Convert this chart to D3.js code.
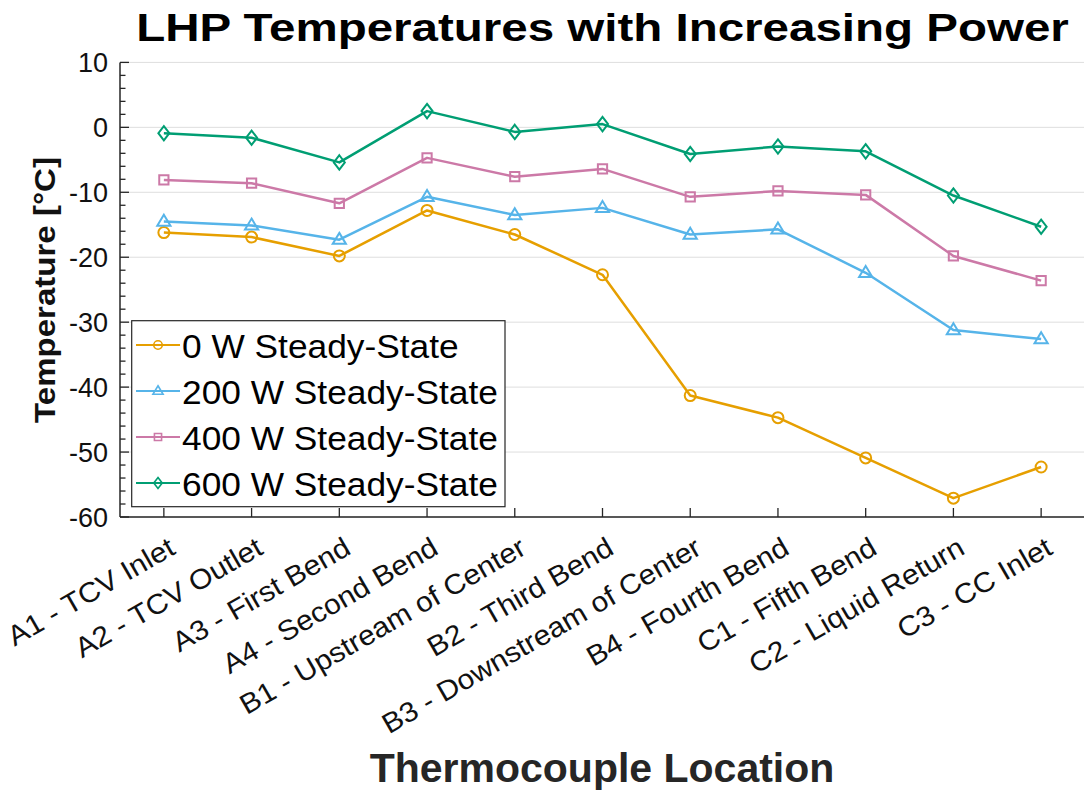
<!DOCTYPE html>
<html><head><meta charset="utf-8">
<script src="https://cdn.jsdelivr.net/npm/d3@7"></script>
<style>
body{margin:0;background:#fff;}
svg text{font-family:"Liberation Sans",Arial,Helvetica,sans-serif;}
</style>
</head><body>
<svg id="chart" width="1084" height="790"></svg>
<script>
// ---------- data ----------
const categories = ["A1 - TCV Inlet","A2 - TCV Outlet","A3 - First Bend","A4 - Second Bend",
  "B1 - Upstream of Center","B2 - Third Bend","B3 - Downstream of Center","B4 - Fourth Bend",
  "C1 - Fifth Bend","C2 - Liquid Return","C3 - CC Inlet"];
const seriesNames = ["0 W Steady-State","200 W Steady-State","400 W Steady-State","600 W Steady-State"];
const temp0W   = [-16.2,-16.9,-19.8,-12.8,-16.5,-22.7,-41.3,-44.7,-50.9,-57.1,-52.3];
const temp200W = [-14.5,-15.1,-17.3,-10.7,-13.5,-12.4,-16.5,-15.7,-22.4,-31.2,-32.6];
const temp400W = [-8.1,-8.6,-11.7,-4.7,-7.6,-6.4,-10.7,-9.8,-10.4,-19.8,-23.6];
const temp600W = [-0.9,-1.6,-5.4,2.5,-0.7,0.5,-4.1,-2.95,-3.7,-10.5,-15.3];
const yTicks = [10,0,-10,-20,-30,-40,-50,-60];
const yMinorTicks = d3.range(-60, 10.01, 2);
const seriesColors = ["#E69F00","#56B4E9","#CC79A7","#009E73"];
const seriesMarkers = ["circle","triangle","square","diamond"];
const seriesValues = [temp0W, temp200W, temp400W, temp600W];

// ---------- layout ----------
const svg = d3.select("#chart");
const plotLeft = 120, plotRight = 1085, plotTop = 62.4, plotBottom = 517;
const axisColor = "#262626";

const x = d3.scalePoint().domain(categories).range([plotLeft, plotRight]).padding(0.5);
const y = d3.scaleLinear().domain([-60, 10]).range([plotBottom, plotTop]);

// grid
svg.append("g").selectAll("line").data(yTicks).join("line")
  .attr("x1", plotLeft).attr("x2", plotRight)
  .attr("y1", d => y(d)).attr("y2", d => y(d))
  .attr("stroke", "#dedede").attr("stroke-width", 1);

// markers
function markerPath(type, s) {
  switch (type) {
    case "circle": return d3.arc()({innerRadius:0, outerRadius:s*0.5, startAngle:0, endAngle:2*Math.PI});
    case "triangle": { const w = s*1.2, h = s*1.0; return `M0,${-h*0.62}L${w/2},${h*0.38}L${-w/2},${h*0.38}Z`; }
    case "square": { const a = s*0.42; return `M${-a},${-a}H${a}V${a}H${-a}Z`; }
    case "diamond": { const w = s*0.5, h = s*0.65; return `M0,${-h}L${w},0L0,${h}L${-w},0Z`; }
  }
}

// series
const line = d3.line().x((d,i) => x(categories[i])).y(d => y(d));
seriesValues.forEach((vals, si) => {
  const g = svg.append("g");
  g.append("path").attr("d", line(vals)).attr("fill", "none")
    .attr("stroke", seriesColors[si]).attr("stroke-width", 2.5).attr("stroke-linejoin", "round");
  g.selectAll("path.m").data(vals).join("path").attr("class", "m")
    .attr("transform", (d,i) => `translate(${x(categories[i])},${y(d)})`)
    .attr("d", markerPath(seriesMarkers[si], 11))
    .attr("fill", "none").attr("stroke", seriesColors[si]).attr("stroke-width", 2);
});

// axes
const ax = svg.append("g");
ax.append("line").attr("x1", plotLeft).attr("x2", plotLeft).attr("y1", plotTop).attr("y2", plotBottom)
  .attr("stroke", axisColor).attr("stroke-width", 1.5);
ax.append("line").attr("x1", plotLeft).attr("x2", plotRight).attr("y1", plotBottom).attr("y2", plotBottom)
  .attr("stroke", axisColor).attr("stroke-width", 1.5);
ax.selectAll("line.ymin").data(yMinorTicks).join("line").attr("class","ymin")
  .attr("x1", plotLeft).attr("x2", d => yTicks.includes(d) ? plotLeft + 9 : plotLeft + 5.5)
  .attr("y1", d => y(d)).attr("y2", d => y(d))
  .attr("stroke", axisColor).attr("stroke-width", 1.3);
ax.selectAll("text.yt").data(yTicks).join("text").attr("class","yt")
  .attr("x", 108).attr("y", d => y(d)).attr("dy", "0.36em")
  .attr("text-anchor", "end").attr("font-size", 27).attr("fill", "#111")
  .text(d => d);
ax.selectAll("line.xt").data(categories).join("line").attr("class","xt")
  .attr("x1", d => x(d)).attr("x2", d => x(d)).attr("y1", plotBottom).attr("y2", plotBottom - 9)
  .attr("stroke", axisColor).attr("stroke-width", 1.3);
ax.selectAll("text.xt").data(categories).join("text").attr("class","xt")
  .attr("transform", d => `translate(${x(d) + 13},${plotBottom + 36}) rotate(-30) scale(1.07,1)`)
  .attr("text-anchor", "end").attr("font-size", 28).attr("fill", "#111")
  .text(d => d);

// title & axis labels
svg.append("text").attr("transform", "translate(602.5,41) scale(1.2,1)")
  .attr("text-anchor", "middle").attr("font-size", 39.6).attr("font-weight", "bold")
  .attr("fill", "#000").text("LHP Temperatures with Increasing Power");
svg.append("text").attr("transform", "translate(602,782)")
  .attr("text-anchor", "middle").attr("font-size", 41).attr("font-weight", "bold")
  .attr("fill", "#262626").text("Thermocouple Location");
svg.append("text").attr("transform", "translate(55,290) rotate(-90) scale(1.14,1)")
  .attr("text-anchor", "middle").attr("font-size", 29).attr("font-weight", "bold")
  .attr("fill", "#111").text("Temperature [°C]");

// legend
const lg = svg.append("g");
lg.append("rect").attr("x", 131.7).attr("y", 320.7).attr("width", 373.3).attr("height", 186)
  .attr("fill", "#fff").attr("stroke", axisColor).attr("stroke-width", 1.2);
seriesNames.forEach((name, i) => {
  const ly = 345 + i * 46;
  lg.append("line").attr("x1", 136).attr("x2", 180).attr("y1", ly).attr("y2", ly)
    .attr("stroke", seriesColors[i]).attr("stroke-width", 2);
  lg.append("path").attr("transform", `translate(158,${ly})`)
    .attr("d", markerPath(seriesMarkers[i], 8.5))
    .attr("fill", "none").attr("stroke", seriesColors[i]).attr("stroke-width", 1.6);
  lg.append("text").attr("transform", `translate(182,${ly + 13}) scale(1.07,1)`)
    .attr("font-size", 33).attr("fill", "#000").text(name);
});
</script>
</body></html>
